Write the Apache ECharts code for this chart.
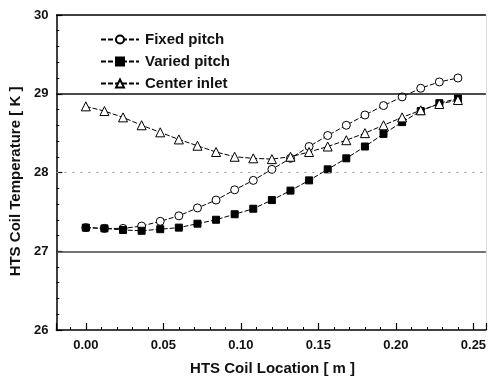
<!DOCTYPE html>
<html>
<head>
<meta charset="utf-8">
<script src="https://cdn.jsdelivr.net/npm/echarts@6/dist/echarts.min.js"></script>
<style>
  html, body {margin: 0; padding: 0; background: #fff;}
  #chart {width: 489px; height: 381px;}
</style>
</head>
<body>
<div id="chart"></div>
<script>
// coil location [m]
const locations = [0, 0.012, 0.024, 0.036, 0.048, 0.06, 0.072, 0.084, 0.096, 0.108, 0.12,
  0.132, 0.144, 0.156, 0.168, 0.18, 0.192, 0.204, 0.216, 0.228, 0.24];
const fixedPitch = [27.30, 27.29, 27.29, 27.32, 27.38, 27.45, 27.55, 27.65, 27.78, 27.90, 28.04,
  28.18, 28.33, 28.47, 28.60, 28.73, 28.85, 28.96, 29.07, 29.15, 29.20];
const variedPitch = [27.30, 27.29, 27.27, 27.26, 27.28, 27.30, 27.35, 27.40, 27.47, 27.54, 27.65,
  27.77, 27.90, 28.04, 28.18, 28.33, 28.49, 28.64, 28.78, 28.88, 28.94];
const centerInlet = [28.84, 28.78, 28.70, 28.60, 28.51, 28.42, 28.34, 28.26, 28.20, 28.18, 28.17,
  28.20, 28.26, 28.33, 28.41, 28.50, 28.60, 28.70, 28.79, 28.87, 28.92];
const guideLines = [30, 29, 28, 27];

const font = '"Liberation Sans", Arial, sans-serif';
const pairs = ys => locations.map((x, i) => [x, ys[i]]);

const guideStyles = {
  30: {color: '#000', width: 1.5, type: 'solid'},
  29: {color: '#111', width: 1.5, type: 'solid'},
  28: {color: '#999', width: 1, type: [2, 6]},
  27: {color: '#444', width: 1.5, type: 'solid'}
};

const lineBase = {
  type: 'line',
  symbolSize: 8,
  lineStyle: {color: '#000', width: 1, type: [5, 2]},
  itemStyle: {color: '#fff', borderColor: '#000', borderWidth: 1},
  emphasis: {disabled: true},
  z: 3
};

const chart = echarts.init(document.getElementById('chart'));
chart.setOption({
  animation: false,
  backgroundColor: '#fff',
  textStyle: {fontFamily: font},
  grid: {left: 53, right: 1, top: 15, bottom: 46},
  legend: {
    orient: 'vertical',
    left: 95,
    top: 27,
    itemWidth: 38,
    itemHeight: 10,
    itemGap: 7,
    textStyle: {fontFamily: font, fontSize: 15, fontWeight: 'bold', color: '#111', padding: [0, 0, 0, 1]},
    data: ['Fixed pitch', 'Varied pitch', 'Center inlet']
  },
  xAxis: {
    type: 'value',
    min: -0.019,
    max: 0.258,
    name: 'HTS Coil Location [ m ]',
    nameLocation: 'middle',
    nameGap: 31,
    nameTextStyle: {fontFamily: font, fontSize: 15, fontWeight: 'bold', color: '#111', padding: [0, 0, 0, 3]},
    axisLine: {onZero: false, lineStyle: {color: '#000', width: 1.5}},
    axisTick: {inside: true, length: 7, lineStyle: {color: '#000', width: 1.2}},
    minorTick: {show: true, splitNumber: 5, length: 3, lineStyle: {color: '#000'}},
    axisLabel: {
      showMinLabel: false,
      showMaxLabel: false,
      margin: 9,
      fontFamily: font, fontSize: 13, fontWeight: 'bold', color: '#111',
      formatter: v => v.toFixed(2)
    },
    splitLine: {show: false}
  },
  yAxis: [{
    type: 'value',
    min: 26,
    max: 30,
    interval: 1,
    name: 'HTS Coil Temperature [ K ]',
    nameLocation: 'middle',
    nameGap: 32,
    nameTextStyle: {fontFamily: font, fontSize: 15, fontWeight: 'bold', color: '#111', padding: [0, 18, 0, 0]},
    axisLine: {onZero: false, lineStyle: {color: '#000', width: 1.5}},
    axisTick: {inside: true, length: 6, lineStyle: {color: '#000', width: 1.2}},
    minorTick: {show: true, splitNumber: 5, length: 3, lineStyle: {color: '#000'}},
    axisLabel: {margin: 8, fontFamily: font, fontSize: 13, fontWeight: 'bold', color: '#111'},
    splitLine: {show: false}
  }, {
    type: 'value',
    min: 26,
    max: 30,
    position: 'right',
    axisLine: {show: true, onZero: false, lineStyle: {color: '#ddd', width: 1}},
    axisTick: {show: false},
    axisLabel: {show: false},
    splitLine: {show: false}
  }],
  series: [{
    ...lineBase,
    name: 'Fixed pitch',
    symbol: 'circle',
    data: pairs(fixedPitch),
    markLine: {
      silent: true,
      symbol: 'none',
      label: {show: false},
      animation: false,
      data: guideLines.map(v => ({yAxis: v, lineStyle: guideStyles[v]}))
    }
  }, {
    ...lineBase,
    name: 'Varied pitch',
    symbol: 'rect',
    symbolSize: 7,
    itemStyle: {color: '#000', borderColor: '#000', borderWidth: 1},
    data: pairs(variedPitch)
  }, {
    ...lineBase,
    name: 'Center inlet',
    symbol: 'triangle',
    symbolSize: 9,
    data: pairs(centerInlet)
  }]
});
</script>
</body>
</html>
